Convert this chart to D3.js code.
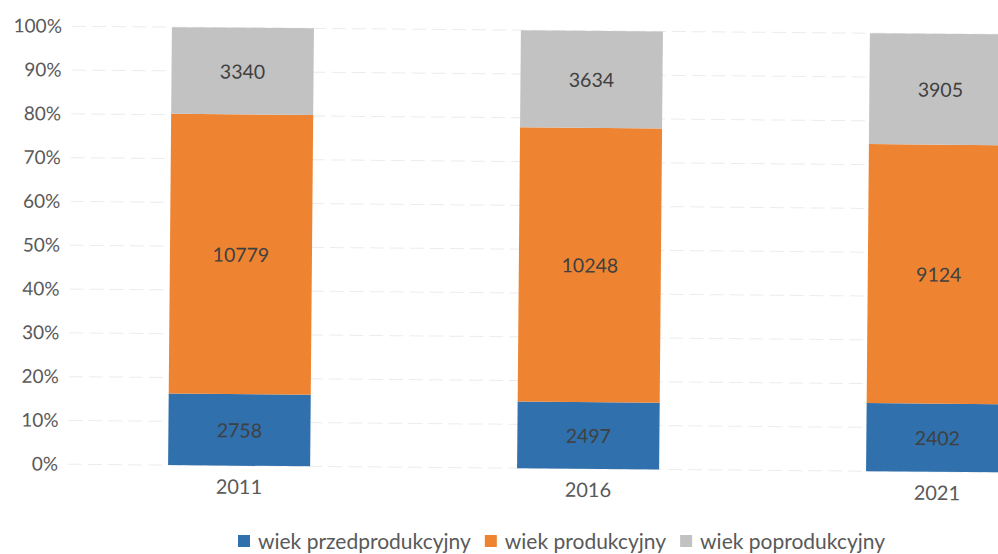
<!DOCTYPE html>
<html><head><meta charset="utf-8">
<script src="https://cdn.jsdelivr.net/npm/d3@7"></script>
<style>
html,body{margin:0;padding:0;background:#fff;}
svg{display:block;}
text{font-family:Lato,"Open Sans",sans-serif;}
</style></head>
<body>
<svg id="chart" width="998" height="554"></svg>
<script>
const categories = ["2011", "2016", "2021"];
const seriesNames = ["wiek przedprodukcyjny", "wiek produkcyjny", "wiek poprodukcyjny"];
const preProductive = [2758, 2497, 2402];
const productive = [10779, 10248, 9124];
const postProductive = [3340, 3634, 3905];
const yTicks = [0, 0.1, 0.2, 0.3, 0.4, 0.5, 0.6, 0.7, 0.8, 0.9, 1];
const colors = ["#2f70ad", "#ee8431", "#c2c2c2"];

const svg = d3.select("#chart");
const g = svg.append("g").attr("transform", "rotate(0.5,500,250)");

const rows = categories.map((c, i) => ({cat: c, s0: preProductive[i], s1: productive[i], s2: postProductive[i]}));
const stack = d3.stack().keys(["s0", "s1", "s2"]).offset(d3.stackOffsetExpand);
const layers = stack(rows);

const x = d3.scaleBand().domain(categories).range([66.5, 1113.5]).paddingInner(0.593).paddingOuter(0.2965);
const y = d3.scaleLinear().domain([0, 1]).range([468, 30]);

// grid
g.append("g").selectAll("line").data(yTicks).join("line")
  .attr("x1", 70).attr("x2", 1000)
  .attr("y1", d => y(d)).attr("y2", d => y(d))
  .attr("stroke", "#ececec").attr("stroke-width", 1).attr("stroke-dasharray", "14,6");

// y axis
const yAxis = d3.axisLeft(y).tickValues(yTicks).tickFormat(d3.format(".0%")).tickSize(0).tickPadding(0);
const ya = g.append("g").attr("transform", "translate(60,0)").call(yAxis);
ya.select(".domain").remove();
ya.selectAll("text").attr("fill", "#595959").style("font-size", "19px").style("font-family", "Lato, sans-serif");

// x axis
const xAxis = d3.axisBottom(x).tickSize(0).tickPadding(0);
const xa = g.append("g").attr("transform", "translate(0,482)").call(xAxis);
xa.select(".domain").remove();
xa.selectAll("text").attr("fill", "#595959").style("font-size", "20px").style("font-family", "Lato, sans-serif");

// bars
layers.forEach((layer, li) => {
  const lg = g.append("g");
  lg.selectAll("rect").data(layer).join("rect")
    .attr("x", d => x(d.data.cat))
    .attr("width", x.bandwidth())
    .attr("y", d => y(d[1]))
    .attr("height", d => y(d[0]) - y(d[1]))
    .attr("fill", colors[li]);
  lg.selectAll("text").data(layer).join("text")
    .attr("x", d => x(d.data.cat) + x.bandwidth() / 2)
    .attr("y", d => (y(d[0]) + y(d[1])) / 2)
    .attr("text-anchor", "middle").attr("dominant-baseline", "central")
    .attr("fill", "#404040").style("font-size", "19.5px")
    .text(d => d.data[layer.key]);
});

// legend (kept level so it stays inside the frame)
const leg = svg.append("g").attr("transform", "translate(238,540)");
let cx = 0;
seriesNames.forEach((n, i) => {
  leg.append("rect").attr("x", cx).attr("y", -5).attr("width", 12).attr("height", 12).attr("fill", colors[i]);
  const t = leg.append("text").attr("x", cx + 20).attr("y", 0).attr("dominant-baseline", "central")
    .attr("fill", "#595959").style("font-size", "21px").text(n);
  cx += 20 + t.node().getComputedTextLength() + 14;
});
</script>
</body></html>
